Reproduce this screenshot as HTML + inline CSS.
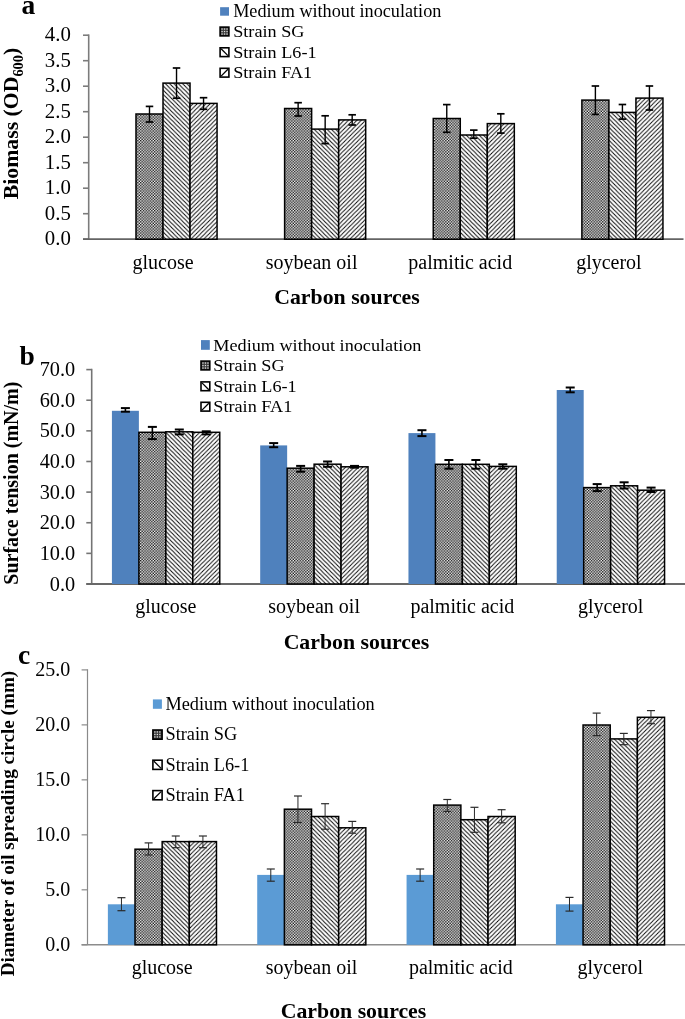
<!DOCTYPE html>
<html><head><meta charset="utf-8"><style>
html,body{margin:0;padding:0;background:#fff;}
svg{display:block;will-change:transform;font-family:"Liberation Serif", serif;}
text{fill:#000;}
</style></head><body>
<svg width="685" height="1019" viewBox="0 0 685 1019">
<defs><pattern id="pSG" width="2.8" height="2.8" patternUnits="userSpaceOnUse"><rect width="2.8" height="2.8" fill="#f8f8f8"/><rect width="1.4" height="1.4" fill="#141414"/><rect x="1.4" y="1.4" width="1.4" height="1.4" fill="#141414"/></pattern><pattern id="pL6" width="4.3" height="4.3" patternUnits="userSpaceOnUse"><rect width="4.3" height="4.3" fill="#fff"/><path d="M-1,-1 L5.3,5.3 M-1,3.3 L1,5.3 M3.3,-1 L5.3,1" stroke="#000" stroke-width="0.95"/></pattern><pattern id="pFA" width="4.3" height="4.3" patternUnits="userSpaceOnUse"><rect width="4.3" height="4.3" fill="#fff"/><path d="M-1,5.3 L5.3,-1 M-1,1 L1,-1 M3.3,5.3 L5.3,3.3" stroke="#000" stroke-width="0.9"/></pattern></defs>
<rect width="685" height="1019" fill="#fff"/>
<line x1="83" y1="239.2" x2="88.7" y2="239.2" stroke="#7c7c7c" stroke-width="1.6"/>
<text x="70.8" y="245.3" font-size="20.8" font-weight="400" text-anchor="end" >0.0</text>
<line x1="83" y1="213.7" x2="88.7" y2="213.7" stroke="#7c7c7c" stroke-width="1.6"/>
<text x="70.8" y="219.8" font-size="20.8" font-weight="400" text-anchor="end" >0.5</text>
<line x1="83" y1="188.2" x2="88.7" y2="188.2" stroke="#7c7c7c" stroke-width="1.6"/>
<text x="70.8" y="194.3" font-size="20.8" font-weight="400" text-anchor="end" >1.0</text>
<line x1="83" y1="162.7" x2="88.7" y2="162.7" stroke="#7c7c7c" stroke-width="1.6"/>
<text x="70.8" y="168.8" font-size="20.8" font-weight="400" text-anchor="end" >1.5</text>
<line x1="83" y1="137.2" x2="88.7" y2="137.2" stroke="#7c7c7c" stroke-width="1.6"/>
<text x="70.8" y="143.3" font-size="20.8" font-weight="400" text-anchor="end" >2.0</text>
<line x1="83" y1="111.7" x2="88.7" y2="111.7" stroke="#7c7c7c" stroke-width="1.6"/>
<text x="70.8" y="117.8" font-size="20.8" font-weight="400" text-anchor="end" >2.5</text>
<line x1="83" y1="86.2" x2="88.7" y2="86.2" stroke="#7c7c7c" stroke-width="1.6"/>
<text x="70.8" y="92.3" font-size="20.8" font-weight="400" text-anchor="end" >3.0</text>
<line x1="83" y1="60.7" x2="88.7" y2="60.7" stroke="#7c7c7c" stroke-width="1.6"/>
<text x="70.8" y="66.8" font-size="20.8" font-weight="400" text-anchor="end" >3.5</text>
<line x1="83" y1="35.2" x2="88.7" y2="35.2" stroke="#7c7c7c" stroke-width="1.6"/>
<text x="70.8" y="41.3" font-size="20.8" font-weight="400" text-anchor="end" >4.0</text>
<line x1="88.7" y1="34.4" x2="88.7" y2="239.2" stroke="#7c7c7c" stroke-width="1.6"/>
<line x1="83" y1="239.2" x2="683.5" y2="239.2" stroke="#646464" stroke-width="1.8"/>
<rect x="135.99" y="114" width="27.02" height="125.2" fill="url(#pSG)" stroke="#000" stroke-width="1.5"/>
<rect x="163.01" y="83.1" width="27.02" height="156.1" fill="url(#pL6)" stroke="#000" stroke-width="1.5"/>
<rect x="190.04" y="103.4" width="27.02" height="135.8" fill="url(#pFA)" stroke="#000" stroke-width="1.5"/>
<line x1="149.5" y1="106.4" x2="149.5" y2="122" stroke="#000" stroke-width="1.4"/>
<line x1="145.75" y1="106.4" x2="153.25" y2="106.4" stroke="#000" stroke-width="1.7"/>
<line x1="145.75" y1="122" x2="153.25" y2="122" stroke="#000" stroke-width="1.7"/>
<line x1="176.53" y1="68" x2="176.53" y2="98.2" stroke="#000" stroke-width="1.4"/>
<line x1="172.78" y1="68" x2="180.28" y2="68" stroke="#000" stroke-width="1.7"/>
<line x1="172.78" y1="98.2" x2="180.28" y2="98.2" stroke="#000" stroke-width="1.7"/>
<line x1="203.55" y1="97.7" x2="203.55" y2="109.3" stroke="#000" stroke-width="1.4"/>
<line x1="199.8" y1="97.7" x2="207.3" y2="97.7" stroke="#000" stroke-width="1.7"/>
<line x1="199.8" y1="109.3" x2="207.3" y2="109.3" stroke="#000" stroke-width="1.7"/>
<rect x="284.62" y="108.5" width="27.02" height="130.7" fill="url(#pSG)" stroke="#000" stroke-width="1.5"/>
<rect x="311.64" y="129.1" width="27.02" height="110.1" fill="url(#pL6)" stroke="#000" stroke-width="1.5"/>
<rect x="338.67" y="119.9" width="27.02" height="119.3" fill="url(#pFA)" stroke="#000" stroke-width="1.5"/>
<line x1="298.13" y1="102.7" x2="298.13" y2="116" stroke="#000" stroke-width="1.4"/>
<line x1="294.38" y1="102.7" x2="301.88" y2="102.7" stroke="#000" stroke-width="1.7"/>
<line x1="294.38" y1="116" x2="301.88" y2="116" stroke="#000" stroke-width="1.7"/>
<line x1="325.16" y1="115.8" x2="325.16" y2="143.6" stroke="#000" stroke-width="1.4"/>
<line x1="321.41" y1="115.8" x2="328.91" y2="115.8" stroke="#000" stroke-width="1.7"/>
<line x1="321.41" y1="143.6" x2="328.91" y2="143.6" stroke="#000" stroke-width="1.7"/>
<line x1="352.18" y1="114.8" x2="352.18" y2="125" stroke="#000" stroke-width="1.4"/>
<line x1="348.43" y1="114.8" x2="355.93" y2="114.8" stroke="#000" stroke-width="1.7"/>
<line x1="348.43" y1="125" x2="355.93" y2="125" stroke="#000" stroke-width="1.7"/>
<rect x="433.25" y="118.5" width="27.02" height="120.7" fill="url(#pSG)" stroke="#000" stroke-width="1.5"/>
<rect x="460.27" y="135" width="27.02" height="104.2" fill="url(#pL6)" stroke="#000" stroke-width="1.5"/>
<rect x="487.3" y="123.6" width="27.02" height="115.6" fill="url(#pFA)" stroke="#000" stroke-width="1.5"/>
<line x1="446.76" y1="104.6" x2="446.76" y2="132.3" stroke="#000" stroke-width="1.4"/>
<line x1="443.01" y1="104.6" x2="450.51" y2="104.6" stroke="#000" stroke-width="1.7"/>
<line x1="443.01" y1="132.3" x2="450.51" y2="132.3" stroke="#000" stroke-width="1.7"/>
<line x1="473.79" y1="130.1" x2="473.79" y2="138.2" stroke="#000" stroke-width="1.4"/>
<line x1="470.04" y1="130.1" x2="477.54" y2="130.1" stroke="#000" stroke-width="1.7"/>
<line x1="470.04" y1="138.2" x2="477.54" y2="138.2" stroke="#000" stroke-width="1.7"/>
<line x1="500.81" y1="113.8" x2="500.81" y2="133.1" stroke="#000" stroke-width="1.4"/>
<line x1="497.06" y1="113.8" x2="504.56" y2="113.8" stroke="#000" stroke-width="1.7"/>
<line x1="497.06" y1="133.1" x2="504.56" y2="133.1" stroke="#000" stroke-width="1.7"/>
<rect x="581.88" y="100.1" width="27.02" height="139.1" fill="url(#pSG)" stroke="#000" stroke-width="1.5"/>
<rect x="608.9" y="112.4" width="27.02" height="126.8" fill="url(#pL6)" stroke="#000" stroke-width="1.5"/>
<rect x="635.93" y="98.1" width="27.02" height="141.1" fill="url(#pFA)" stroke="#000" stroke-width="1.5"/>
<line x1="595.39" y1="86" x2="595.39" y2="114.4" stroke="#000" stroke-width="1.4"/>
<line x1="591.64" y1="86" x2="599.14" y2="86" stroke="#000" stroke-width="1.7"/>
<line x1="591.64" y1="114.4" x2="599.14" y2="114.4" stroke="#000" stroke-width="1.7"/>
<line x1="622.42" y1="104.5" x2="622.42" y2="119.1" stroke="#000" stroke-width="1.4"/>
<line x1="618.67" y1="104.5" x2="626.17" y2="104.5" stroke="#000" stroke-width="1.7"/>
<line x1="618.67" y1="119.1" x2="626.17" y2="119.1" stroke="#000" stroke-width="1.7"/>
<line x1="649.44" y1="86" x2="649.44" y2="110" stroke="#000" stroke-width="1.4"/>
<line x1="645.69" y1="86" x2="653.19" y2="86" stroke="#000" stroke-width="1.7"/>
<line x1="645.69" y1="110" x2="653.19" y2="110" stroke="#000" stroke-width="1.7"/>
<text x="163.01" y="268.8" font-size="20" font-weight="400" text-anchor="middle" >glucose</text>
<text x="311.64" y="268.8" font-size="20" font-weight="400" text-anchor="middle" >soybean oil</text>
<text x="460.27" y="268.8" font-size="20" font-weight="400" text-anchor="middle" >palmitic acid</text>
<text x="608.9" y="268.8" font-size="20" font-weight="400" text-anchor="middle" >glycerol</text>
<text x="347" y="303.6" font-size="21.8" font-weight="700" text-anchor="middle" >Carbon sources</text>
<text transform="translate(18,199.3) rotate(-90)" font-size="22" font-weight="700" textLength="151.5" lengthAdjust="spacingAndGlyphs">Biomass (OD<tspan font-size="14.5" dy="4.5">600</tspan><tspan dy="-4.5">)</tspan></text>
<text x="21.5" y="13.6" font-size="27.5" font-weight="700" text-anchor="start" >a</text>
<rect x="220.1" y="7.2" width="8.9" height="8.5" fill="#4F81BD"/>
<text transform="translate(233.2,17.3) scale(1,1)" font-size="18.2">Medium without inoculation</text>
<rect x="220.1" y="27.1" width="8.8" height="8.8" fill="#3a3a3a" stroke="#000" stroke-width="1.6"/>
<rect x="221.4" y="28.4" width="1.3" height="1.3" fill="#e0e0e0"/>
<rect x="221.4" y="30.9" width="1.3" height="1.3" fill="#e0e0e0"/>
<rect x="221.4" y="33.4" width="1.3" height="1.3" fill="#e0e0e0"/>
<rect x="223.9" y="28.4" width="1.3" height="1.3" fill="#e0e0e0"/>
<rect x="223.9" y="30.9" width="1.3" height="1.3" fill="#e0e0e0"/>
<rect x="223.9" y="33.4" width="1.3" height="1.3" fill="#e0e0e0"/>
<rect x="226.4" y="28.4" width="1.3" height="1.3" fill="#e0e0e0"/>
<rect x="226.4" y="30.9" width="1.3" height="1.3" fill="#e0e0e0"/>
<rect x="226.4" y="33.4" width="1.3" height="1.3" fill="#e0e0e0"/>
<text transform="translate(233.2,37.2) scale(1,0.93)" font-size="18.2">Strain SG</text>
<rect x="220.1" y="47.8" width="8.8" height="8.8" fill="#fff" stroke="#000" stroke-width="1.6"/>
<line x1="221.1" y1="48.8" x2="227.9" y2="55.6" stroke="#000" stroke-width="1.3"/>
<text transform="translate(233.2,57.8) scale(1,0.93)" font-size="18.2">Strain L6-1</text>
<rect x="220.1" y="68.3" width="8.8" height="8.8" fill="#fff" stroke="#000" stroke-width="1.6"/>
<line x1="221.1" y1="76.1" x2="227.9" y2="69.3" stroke="#000" stroke-width="1.3"/>
<text transform="translate(233.2,78.3) scale(1,0.93)" font-size="18.2">Strain FA1</text>
<line x1="86.3" y1="584" x2="91.7" y2="584" stroke="#747474" stroke-width="1.6"/>
<text x="75.2" y="590.5" font-size="20.3" font-weight="400" text-anchor="end" >0.0</text>
<line x1="86.3" y1="553.37" x2="91.7" y2="553.37" stroke="#747474" stroke-width="1.6"/>
<text x="75.2" y="559.87" font-size="20.3" font-weight="400" text-anchor="end" >10.0</text>
<line x1="86.3" y1="522.74" x2="91.7" y2="522.74" stroke="#747474" stroke-width="1.6"/>
<text x="75.2" y="529.24" font-size="20.3" font-weight="400" text-anchor="end" >20.0</text>
<line x1="86.3" y1="492.11" x2="91.7" y2="492.11" stroke="#747474" stroke-width="1.6"/>
<text x="75.2" y="498.61" font-size="20.3" font-weight="400" text-anchor="end" >30.0</text>
<line x1="86.3" y1="461.49" x2="91.7" y2="461.49" stroke="#747474" stroke-width="1.6"/>
<text x="75.2" y="467.99" font-size="20.3" font-weight="400" text-anchor="end" >40.0</text>
<line x1="86.3" y1="430.86" x2="91.7" y2="430.86" stroke="#747474" stroke-width="1.6"/>
<text x="75.2" y="437.36" font-size="20.3" font-weight="400" text-anchor="end" >50.0</text>
<line x1="86.3" y1="400.23" x2="91.7" y2="400.23" stroke="#747474" stroke-width="1.6"/>
<text x="75.2" y="406.73" font-size="20.3" font-weight="400" text-anchor="end" >60.0</text>
<line x1="86.3" y1="369.6" x2="91.7" y2="369.6" stroke="#747474" stroke-width="1.6"/>
<text x="75.2" y="376.1" font-size="20.3" font-weight="400" text-anchor="end" >70.0</text>
<line x1="91.7" y1="368.8" x2="91.7" y2="584" stroke="#747474" stroke-width="1.6"/>
<line x1="86.3" y1="584" x2="685" y2="584" stroke="#686868" stroke-width="1.8"/>
<rect x="111.92" y="410.8" width="26.96" height="173.2" fill="#4F81BD"/>
<rect x="138.88" y="432.3" width="26.96" height="151.7" fill="url(#pSG)" stroke="#000" stroke-width="1.5"/>
<rect x="165.84" y="431.8" width="26.96" height="152.2" fill="url(#pL6)" stroke="#000" stroke-width="1.5"/>
<rect x="192.79" y="432.3" width="26.96" height="151.7" fill="url(#pFA)" stroke="#000" stroke-width="1.5"/>
<line x1="125.4" y1="408.1" x2="125.4" y2="411.7" stroke="#000" stroke-width="1.6"/>
<line x1="120.9" y1="408.1" x2="129.9" y2="408.1" stroke="#000" stroke-width="2"/>
<line x1="120.9" y1="411.7" x2="129.9" y2="411.7" stroke="#000" stroke-width="2"/>
<line x1="152.36" y1="426.9" x2="152.36" y2="439.1" stroke="#000" stroke-width="1.6"/>
<line x1="147.86" y1="426.9" x2="156.86" y2="426.9" stroke="#000" stroke-width="2"/>
<line x1="147.86" y1="439.1" x2="156.86" y2="439.1" stroke="#000" stroke-width="2"/>
<line x1="179.31" y1="429.5" x2="179.31" y2="434.4" stroke="#000" stroke-width="1.6"/>
<line x1="174.81" y1="429.5" x2="183.81" y2="429.5" stroke="#000" stroke-width="2"/>
<line x1="174.81" y1="434.4" x2="183.81" y2="434.4" stroke="#000" stroke-width="2"/>
<line x1="206.27" y1="431.3" x2="206.27" y2="434.4" stroke="#000" stroke-width="1.6"/>
<line x1="201.77" y1="431.3" x2="210.77" y2="431.3" stroke="#000" stroke-width="2"/>
<line x1="201.77" y1="434.4" x2="210.77" y2="434.4" stroke="#000" stroke-width="2"/>
<rect x="260.19" y="445.4" width="26.96" height="138.6" fill="#4F81BD"/>
<rect x="287.15" y="468.2" width="26.96" height="115.8" fill="url(#pSG)" stroke="#000" stroke-width="1.5"/>
<rect x="314.11" y="464.2" width="26.96" height="119.8" fill="url(#pL6)" stroke="#000" stroke-width="1.5"/>
<rect x="341.06" y="466.8" width="26.96" height="117.2" fill="url(#pFA)" stroke="#000" stroke-width="1.5"/>
<line x1="273.67" y1="443.1" x2="273.67" y2="447.2" stroke="#000" stroke-width="1.6"/>
<line x1="269.17" y1="443.1" x2="278.17" y2="443.1" stroke="#000" stroke-width="2"/>
<line x1="269.17" y1="447.2" x2="278.17" y2="447.2" stroke="#000" stroke-width="2"/>
<line x1="300.63" y1="465.9" x2="300.63" y2="471.7" stroke="#000" stroke-width="1.6"/>
<line x1="296.13" y1="465.9" x2="305.13" y2="465.9" stroke="#000" stroke-width="2"/>
<line x1="296.13" y1="471.7" x2="305.13" y2="471.7" stroke="#000" stroke-width="2"/>
<line x1="327.58" y1="461.5" x2="327.58" y2="466.8" stroke="#000" stroke-width="1.6"/>
<line x1="323.08" y1="461.5" x2="332.08" y2="461.5" stroke="#000" stroke-width="2"/>
<line x1="323.08" y1="466.8" x2="332.08" y2="466.8" stroke="#000" stroke-width="2"/>
<line x1="354.54" y1="465.9" x2="354.54" y2="467.7" stroke="#000" stroke-width="1.6"/>
<line x1="350.04" y1="465.9" x2="359.04" y2="465.9" stroke="#000" stroke-width="2"/>
<line x1="350.04" y1="467.7" x2="359.04" y2="467.7" stroke="#000" stroke-width="2"/>
<rect x="408.46" y="433.1" width="26.96" height="150.9" fill="#4F81BD"/>
<rect x="435.42" y="464.3" width="26.96" height="119.7" fill="url(#pSG)" stroke="#000" stroke-width="1.5"/>
<rect x="462.38" y="464.3" width="26.96" height="119.7" fill="url(#pL6)" stroke="#000" stroke-width="1.5"/>
<rect x="489.33" y="466.4" width="26.96" height="117.6" fill="url(#pFA)" stroke="#000" stroke-width="1.5"/>
<line x1="421.94" y1="430.2" x2="421.94" y2="436.1" stroke="#000" stroke-width="1.6"/>
<line x1="417.44" y1="430.2" x2="426.44" y2="430.2" stroke="#000" stroke-width="2"/>
<line x1="417.44" y1="436.1" x2="426.44" y2="436.1" stroke="#000" stroke-width="2"/>
<line x1="448.9" y1="460" x2="448.9" y2="468.7" stroke="#000" stroke-width="1.6"/>
<line x1="444.4" y1="460" x2="453.4" y2="460" stroke="#000" stroke-width="2"/>
<line x1="444.4" y1="468.7" x2="453.4" y2="468.7" stroke="#000" stroke-width="2"/>
<line x1="475.85" y1="460" x2="475.85" y2="468.7" stroke="#000" stroke-width="1.6"/>
<line x1="471.35" y1="460" x2="480.35" y2="460" stroke="#000" stroke-width="2"/>
<line x1="471.35" y1="468.7" x2="480.35" y2="468.7" stroke="#000" stroke-width="2"/>
<line x1="502.81" y1="464.3" x2="502.81" y2="468.7" stroke="#000" stroke-width="1.6"/>
<line x1="498.31" y1="464.3" x2="507.31" y2="464.3" stroke="#000" stroke-width="2"/>
<line x1="498.31" y1="468.7" x2="507.31" y2="468.7" stroke="#000" stroke-width="2"/>
<rect x="556.73" y="390" width="26.96" height="194" fill="#4F81BD"/>
<rect x="583.69" y="487.6" width="26.96" height="96.4" fill="url(#pSG)" stroke="#000" stroke-width="1.5"/>
<rect x="610.65" y="485.8" width="26.96" height="98.2" fill="url(#pL6)" stroke="#000" stroke-width="1.5"/>
<rect x="637.6" y="490.2" width="26.96" height="93.8" fill="url(#pFA)" stroke="#000" stroke-width="1.5"/>
<line x1="570.21" y1="387.5" x2="570.21" y2="392.3" stroke="#000" stroke-width="1.6"/>
<line x1="565.71" y1="387.5" x2="574.71" y2="387.5" stroke="#000" stroke-width="2"/>
<line x1="565.71" y1="392.3" x2="574.71" y2="392.3" stroke="#000" stroke-width="2"/>
<line x1="597.17" y1="484.1" x2="597.17" y2="491.1" stroke="#000" stroke-width="1.6"/>
<line x1="592.67" y1="484.1" x2="601.67" y2="484.1" stroke="#000" stroke-width="2"/>
<line x1="592.67" y1="491.1" x2="601.67" y2="491.1" stroke="#000" stroke-width="2"/>
<line x1="624.12" y1="482.3" x2="624.12" y2="488.5" stroke="#000" stroke-width="1.6"/>
<line x1="619.62" y1="482.3" x2="628.62" y2="482.3" stroke="#000" stroke-width="2"/>
<line x1="619.62" y1="488.5" x2="628.62" y2="488.5" stroke="#000" stroke-width="2"/>
<line x1="651.08" y1="487.6" x2="651.08" y2="492" stroke="#000" stroke-width="1.6"/>
<line x1="646.58" y1="487.6" x2="655.58" y2="487.6" stroke="#000" stroke-width="2"/>
<line x1="646.58" y1="492" x2="655.58" y2="492" stroke="#000" stroke-width="2"/>
<text x="165.84" y="612.5" font-size="20" font-weight="400" text-anchor="middle" >glucose</text>
<text x="314.11" y="612.5" font-size="20" font-weight="400" text-anchor="middle" >soybean oil</text>
<text x="462.38" y="612.5" font-size="20" font-weight="400" text-anchor="middle" >palmitic acid</text>
<text x="610.65" y="612.5" font-size="20" font-weight="400" text-anchor="middle" >glycerol</text>
<text x="356.4" y="649" font-size="21.8" font-weight="700" text-anchor="middle" >Carbon sources</text>
<text transform="translate(18,584.7) rotate(-90)" font-size="20" font-weight="700" textLength="203" lengthAdjust="spacingAndGlyphs">Surface tension (mN/m)</text>
<text x="19.5" y="365.2" font-size="27.5" font-weight="700" text-anchor="start" >b</text>
<rect x="201" y="340.1" width="8.8" height="9.7" fill="#4F81BD"/>
<text transform="translate(213.3,350.6) scale(1,0.93)" font-size="18.2">Medium without inoculation</text>
<rect x="201" y="361.1" width="8.8" height="8.8" fill="#3a3a3a" stroke="#000" stroke-width="1.6"/>
<rect x="202.3" y="362.4" width="1.3" height="1.3" fill="#e0e0e0"/>
<rect x="202.3" y="364.9" width="1.3" height="1.3" fill="#e0e0e0"/>
<rect x="202.3" y="367.4" width="1.3" height="1.3" fill="#e0e0e0"/>
<rect x="204.8" y="362.4" width="1.3" height="1.3" fill="#e0e0e0"/>
<rect x="204.8" y="364.9" width="1.3" height="1.3" fill="#e0e0e0"/>
<rect x="204.8" y="367.4" width="1.3" height="1.3" fill="#e0e0e0"/>
<rect x="207.3" y="362.4" width="1.3" height="1.3" fill="#e0e0e0"/>
<rect x="207.3" y="364.9" width="1.3" height="1.3" fill="#e0e0e0"/>
<rect x="207.3" y="367.4" width="1.3" height="1.3" fill="#e0e0e0"/>
<text transform="translate(213.3,371.4) scale(1,0.93)" font-size="18.2">Strain SG</text>
<rect x="201" y="381.9" width="8.8" height="8.8" fill="#fff" stroke="#000" stroke-width="1.6"/>
<line x1="202" y1="382.9" x2="208.8" y2="389.7" stroke="#000" stroke-width="1.3"/>
<text transform="translate(213.3,391.9) scale(1,0.93)" font-size="18.2">Strain L6-1</text>
<rect x="201" y="402.3" width="8.8" height="8.8" fill="#fff" stroke="#000" stroke-width="1.6"/>
<line x1="202" y1="410.1" x2="208.8" y2="403.3" stroke="#000" stroke-width="1.3"/>
<text transform="translate(213.3,412.3) scale(1,0.93)" font-size="18.2">Strain FA1</text>
<line x1="81.6" y1="944.8" x2="87.5" y2="944.8" stroke="#8a8a8a" stroke-width="1.2"/>
<text x="70.3" y="950.7" font-size="20.0" font-weight="400" text-anchor="end" >0.0</text>
<line x1="81.6" y1="889.82" x2="87.5" y2="889.82" stroke="#8a8a8a" stroke-width="1.2"/>
<text x="70.3" y="895.72" font-size="20.0" font-weight="400" text-anchor="end" >5.0</text>
<line x1="81.6" y1="834.84" x2="87.5" y2="834.84" stroke="#8a8a8a" stroke-width="1.2"/>
<text x="70.3" y="840.74" font-size="20.0" font-weight="400" text-anchor="end" >10.0</text>
<line x1="81.6" y1="779.86" x2="87.5" y2="779.86" stroke="#8a8a8a" stroke-width="1.2"/>
<text x="70.3" y="785.76" font-size="20.0" font-weight="400" text-anchor="end" >15.0</text>
<line x1="81.6" y1="724.88" x2="87.5" y2="724.88" stroke="#8a8a8a" stroke-width="1.2"/>
<text x="70.3" y="730.78" font-size="20.0" font-weight="400" text-anchor="end" >20.0</text>
<line x1="81.6" y1="669.9" x2="87.5" y2="669.9" stroke="#8a8a8a" stroke-width="1.2"/>
<text x="70.3" y="675.8" font-size="20.0" font-weight="400" text-anchor="end" >25.0</text>
<line x1="87.5" y1="669.3" x2="87.5" y2="944.8" stroke="#8a8a8a" stroke-width="1.2"/>
<line x1="81.6" y1="944.8" x2="685" y2="944.8" stroke="#8c8c8c" stroke-width="1.6"/>
<rect x="107.87" y="904.3" width="27.15" height="40.5" fill="#5B9BD5"/>
<rect x="135.02" y="849.2" width="27.15" height="95.6" fill="url(#pSG)" stroke="#000" stroke-width="1.5"/>
<rect x="162.17" y="841.6" width="27.15" height="103.2" fill="url(#pL6)" stroke="#000" stroke-width="1.5"/>
<rect x="189.33" y="841.6" width="27.15" height="103.2" fill="url(#pFA)" stroke="#000" stroke-width="1.5"/>
<line x1="121.44" y1="897.7" x2="121.44" y2="910.7" stroke="#2a2a2a" stroke-width="1.0"/>
<line x1="117.44" y1="897.7" x2="125.44" y2="897.7" stroke="#2a2a2a" stroke-width="1.2"/>
<line x1="117.44" y1="910.7" x2="125.44" y2="910.7" stroke="#2a2a2a" stroke-width="1.2"/>
<line x1="148.6" y1="842.9" x2="148.6" y2="855" stroke="#2a2a2a" stroke-width="1.0"/>
<line x1="144.6" y1="842.9" x2="152.6" y2="842.9" stroke="#2a2a2a" stroke-width="1.2"/>
<line x1="144.6" y1="855" x2="152.6" y2="855" stroke="#2a2a2a" stroke-width="1.2"/>
<line x1="175.75" y1="836" x2="175.75" y2="847.7" stroke="#2a2a2a" stroke-width="1.0"/>
<line x1="171.75" y1="836" x2="179.75" y2="836" stroke="#2a2a2a" stroke-width="1.2"/>
<line x1="171.75" y1="847.7" x2="179.75" y2="847.7" stroke="#2a2a2a" stroke-width="1.2"/>
<line x1="202.91" y1="836" x2="202.91" y2="847.7" stroke="#2a2a2a" stroke-width="1.0"/>
<line x1="198.91" y1="836" x2="206.91" y2="836" stroke="#2a2a2a" stroke-width="1.2"/>
<line x1="198.91" y1="847.7" x2="206.91" y2="847.7" stroke="#2a2a2a" stroke-width="1.2"/>
<rect x="257.22" y="874.9" width="27.15" height="69.9" fill="#5B9BD5"/>
<rect x="284.37" y="809.2" width="27.15" height="135.6" fill="url(#pSG)" stroke="#000" stroke-width="1.5"/>
<rect x="311.52" y="816.5" width="27.15" height="128.3" fill="url(#pL6)" stroke="#000" stroke-width="1.5"/>
<rect x="338.68" y="827.8" width="27.15" height="117" fill="url(#pFA)" stroke="#000" stroke-width="1.5"/>
<line x1="270.79" y1="869" x2="270.79" y2="881.2" stroke="#2a2a2a" stroke-width="1.0"/>
<line x1="266.79" y1="869" x2="274.79" y2="869" stroke="#2a2a2a" stroke-width="1.2"/>
<line x1="266.79" y1="881.2" x2="274.79" y2="881.2" stroke="#2a2a2a" stroke-width="1.2"/>
<line x1="297.95" y1="796" x2="297.95" y2="822.5" stroke="#2a2a2a" stroke-width="1.0"/>
<line x1="293.95" y1="796" x2="301.95" y2="796" stroke="#2a2a2a" stroke-width="1.2"/>
<line x1="293.95" y1="822.5" x2="301.95" y2="822.5" stroke="#2a2a2a" stroke-width="1.2"/>
<line x1="325.1" y1="803.7" x2="325.1" y2="829.2" stroke="#2a2a2a" stroke-width="1.0"/>
<line x1="321.1" y1="803.7" x2="329.1" y2="803.7" stroke="#2a2a2a" stroke-width="1.2"/>
<line x1="321.1" y1="829.2" x2="329.1" y2="829.2" stroke="#2a2a2a" stroke-width="1.2"/>
<line x1="352.26" y1="821.4" x2="352.26" y2="833.2" stroke="#2a2a2a" stroke-width="1.0"/>
<line x1="348.26" y1="821.4" x2="356.26" y2="821.4" stroke="#2a2a2a" stroke-width="1.2"/>
<line x1="348.26" y1="833.2" x2="356.26" y2="833.2" stroke="#2a2a2a" stroke-width="1.2"/>
<rect x="406.57" y="874.9" width="27.15" height="69.9" fill="#5B9BD5"/>
<rect x="433.72" y="805.1" width="27.15" height="139.7" fill="url(#pSG)" stroke="#000" stroke-width="1.5"/>
<rect x="460.88" y="819.7" width="27.15" height="125.1" fill="url(#pL6)" stroke="#000" stroke-width="1.5"/>
<rect x="488.03" y="816.5" width="27.15" height="128.3" fill="url(#pFA)" stroke="#000" stroke-width="1.5"/>
<line x1="420.14" y1="869" x2="420.14" y2="881.2" stroke="#2a2a2a" stroke-width="1.0"/>
<line x1="416.14" y1="869" x2="424.14" y2="869" stroke="#2a2a2a" stroke-width="1.2"/>
<line x1="416.14" y1="881.2" x2="424.14" y2="881.2" stroke="#2a2a2a" stroke-width="1.2"/>
<line x1="447.3" y1="799.5" x2="447.3" y2="811.5" stroke="#2a2a2a" stroke-width="1.0"/>
<line x1="443.3" y1="799.5" x2="451.3" y2="799.5" stroke="#2a2a2a" stroke-width="1.2"/>
<line x1="443.3" y1="811.5" x2="451.3" y2="811.5" stroke="#2a2a2a" stroke-width="1.2"/>
<line x1="474.45" y1="807.3" x2="474.45" y2="832.3" stroke="#2a2a2a" stroke-width="1.0"/>
<line x1="470.45" y1="807.3" x2="478.45" y2="807.3" stroke="#2a2a2a" stroke-width="1.2"/>
<line x1="470.45" y1="832.3" x2="478.45" y2="832.3" stroke="#2a2a2a" stroke-width="1.2"/>
<line x1="501.61" y1="809.7" x2="501.61" y2="822.8" stroke="#2a2a2a" stroke-width="1.0"/>
<line x1="497.61" y1="809.7" x2="505.61" y2="809.7" stroke="#2a2a2a" stroke-width="1.2"/>
<line x1="497.61" y1="822.8" x2="505.61" y2="822.8" stroke="#2a2a2a" stroke-width="1.2"/>
<rect x="555.92" y="904.3" width="27.15" height="40.5" fill="#5B9BD5"/>
<rect x="583.07" y="725" width="27.15" height="219.8" fill="url(#pSG)" stroke="#000" stroke-width="1.5"/>
<rect x="610.22" y="738.9" width="27.15" height="205.9" fill="url(#pL6)" stroke="#000" stroke-width="1.5"/>
<rect x="637.38" y="717.3" width="27.15" height="227.5" fill="url(#pFA)" stroke="#000" stroke-width="1.5"/>
<line x1="569.49" y1="897.4" x2="569.49" y2="911.1" stroke="#2a2a2a" stroke-width="1.0"/>
<line x1="565.49" y1="897.4" x2="573.49" y2="897.4" stroke="#2a2a2a" stroke-width="1.2"/>
<line x1="565.49" y1="911.1" x2="573.49" y2="911.1" stroke="#2a2a2a" stroke-width="1.2"/>
<line x1="596.65" y1="713.1" x2="596.65" y2="735.6" stroke="#2a2a2a" stroke-width="1.0"/>
<line x1="592.65" y1="713.1" x2="600.65" y2="713.1" stroke="#2a2a2a" stroke-width="1.2"/>
<line x1="592.65" y1="735.6" x2="600.65" y2="735.6" stroke="#2a2a2a" stroke-width="1.2"/>
<line x1="623.8" y1="733.4" x2="623.8" y2="744.7" stroke="#2a2a2a" stroke-width="1.0"/>
<line x1="619.8" y1="733.4" x2="627.8" y2="733.4" stroke="#2a2a2a" stroke-width="1.2"/>
<line x1="619.8" y1="744.7" x2="627.8" y2="744.7" stroke="#2a2a2a" stroke-width="1.2"/>
<line x1="650.96" y1="710.6" x2="650.96" y2="723.7" stroke="#2a2a2a" stroke-width="1.0"/>
<line x1="646.96" y1="710.6" x2="654.96" y2="710.6" stroke="#2a2a2a" stroke-width="1.2"/>
<line x1="646.96" y1="723.7" x2="654.96" y2="723.7" stroke="#2a2a2a" stroke-width="1.2"/>
<text x="162.18" y="973.5" font-size="20" font-weight="400" text-anchor="middle" >glucose</text>
<text x="311.52" y="973.5" font-size="20" font-weight="400" text-anchor="middle" >soybean oil</text>
<text x="460.88" y="973.5" font-size="20" font-weight="400" text-anchor="middle" >palmitic acid</text>
<text x="610.23" y="973.5" font-size="20" font-weight="400" text-anchor="middle" >glycerol</text>
<text x="353.5" y="1018" font-size="21.8" font-weight="700" text-anchor="middle" >Carbon sources</text>
<text transform="translate(14.3,976.3) rotate(-90)" font-size="19.5" font-weight="700" textLength="305.5" lengthAdjust="spacingAndGlyphs">Diameter of oil spreading circle (mm)</text>
<text x="18" y="663.8" font-size="27.5" font-weight="700" text-anchor="start" >c</text>
<rect x="152.9" y="699.4" width="9" height="9.4" fill="#5B9BD5"/>
<text transform="translate(165.5,709.8) scale(1,1)" font-size="18.3">Medium without inoculation</text>
<rect x="152.9" y="730" width="9.2" height="9.2" fill="#3a3a3a" stroke="#000" stroke-width="1.6"/>
<rect x="154.2" y="731.3" width="1.3" height="1.3" fill="#e0e0e0"/>
<rect x="154.2" y="733.8" width="1.3" height="1.3" fill="#e0e0e0"/>
<rect x="154.2" y="736.3" width="1.3" height="1.3" fill="#e0e0e0"/>
<rect x="156.7" y="731.3" width="1.3" height="1.3" fill="#e0e0e0"/>
<rect x="156.7" y="733.8" width="1.3" height="1.3" fill="#e0e0e0"/>
<rect x="156.7" y="736.3" width="1.3" height="1.3" fill="#e0e0e0"/>
<rect x="159.2" y="731.3" width="1.3" height="1.3" fill="#e0e0e0"/>
<rect x="159.2" y="733.8" width="1.3" height="1.3" fill="#e0e0e0"/>
<rect x="159.2" y="736.3" width="1.3" height="1.3" fill="#e0e0e0"/>
<text transform="translate(165.5,740.1) scale(1,1)" font-size="18.3">Strain SG</text>
<rect x="152.9" y="760.2" width="9.2" height="9.2" fill="#fff" stroke="#000" stroke-width="1.6"/>
<line x1="153.9" y1="761.2" x2="161.1" y2="768.4" stroke="#000" stroke-width="1.3"/>
<text transform="translate(165.5,770.5) scale(1,1)" font-size="18.3">Strain L6-1</text>
<rect x="152.9" y="790.6" width="9.2" height="9.2" fill="#fff" stroke="#000" stroke-width="1.6"/>
<line x1="153.9" y1="798.8" x2="161.1" y2="791.6" stroke="#000" stroke-width="1.3"/>
<text transform="translate(165.5,800.8) scale(1,1)" font-size="18.3">Strain FA1</text>
</svg>
</body></html>
